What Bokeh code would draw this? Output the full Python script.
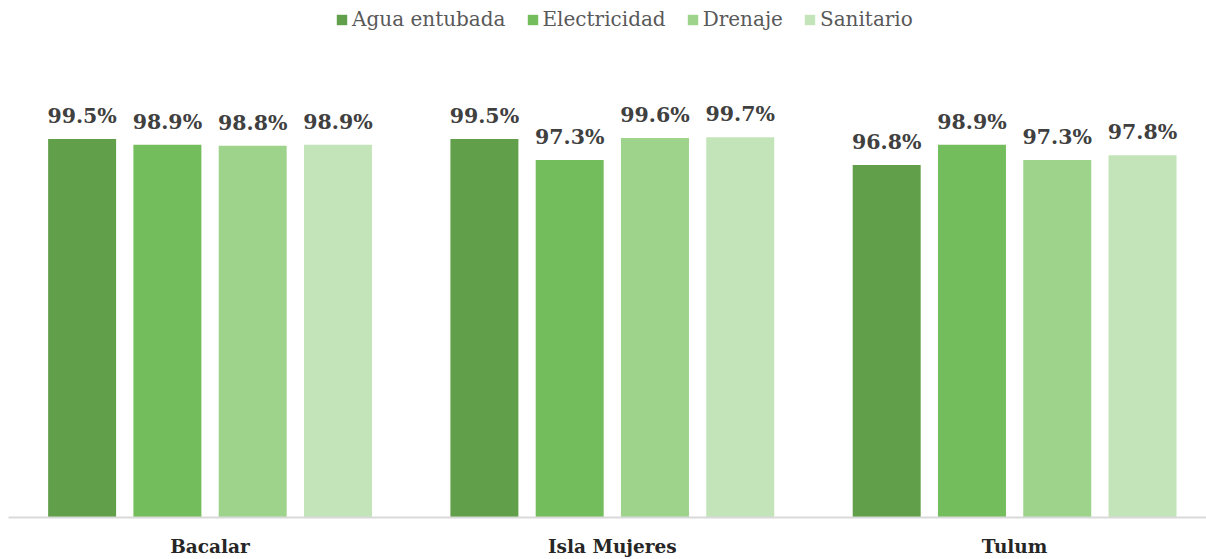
from bokeh.plotting import figure
from bokeh.models import ColumnDataSource, Range1d, FixedTicker, Legend, LegendItem
from bokeh.core.properties import value
from bokeh.transform import dodge
from bokeh.embed import file_html
from bokeh.resources import INLINE

municipios = ["Bacalar", "Isla Mujeres", "Tulum"]
series = ["Agua entubada", "Electricidad", "Drenaje", "Sanitario"]
agua = [99.5, 99.5, 96.8]
electricidad = [98.9, 97.3, 98.9]
drenaje = [98.8, 99.6, 97.3]
sanitario = [98.9, 99.7, 97.8]
colors = ["#629F4B", "#74BD5C", "#9DD38A", "#C3E4B8"]

FONT = "DejaVu Serif"
xpos = list(range(len(municipios)))
data = dict(x=xpos, agua=agua, electricidad=electricidad, drenaje=drenaje, sanitario=sanitario)
for k in ["agua", "electricidad", "drenaje", "sanitario"]:
    data[k + "_lbl"] = [f"{v:.1f}%" for v in data[k]]
src = ColumnDataSource(data)

p = figure(width=1206, height=559, output_backend="svg", toolbar_location=None,
           x_range=Range1d(-0.501, 2.477), y_range=Range1d(60, 113.96),
           min_border_left=8, min_border_right=0, min_border_top=0, min_border_bottom=0)
p.outline_line_color = None
p.grid.visible = False
p.yaxis.visible = False

offsets = [-0.318, -0.106, 0.106, 0.318]
keys = ["agua", "electricidad", "drenaje", "sanitario"]
items = []
for k, off, c, name in zip(keys, offsets, colors, series):
    r = p.vbar(x=dodge("x", off), top=k, bottom=60, width=0.169, source=src,
               fill_color=c, line_color=None)
    p.text(x=dodge("x", off), y=k, text=k + "_lbl", source=src,
           text_align="center", text_baseline="bottom", y_offset=-11,
           text_font=value(FONT), text_font_style="bold", text_font_size="20.5px",
           text_color="#404040")
    items.append(LegendItem(label=name, renderers=[r]))

legend = Legend(items=items, orientation="horizontal", location=(327, 486),
                border_line_color=None, background_fill_alpha=0,
                label_text_font=FONT, label_text_font_size="20px",
                label_text_color="#595959", glyph_width=13, glyph_height=13,
                spacing=20, label_standoff=4, padding=0, margin=0)
p.add_layout(legend, "center")

p.xaxis.ticker = FixedTicker(ticks=xpos)
p.xaxis.major_label_overrides = {i: m for i, m in zip(xpos, municipios)}
p.xaxis.major_tick_line_color = None
p.xaxis.minor_tick_line_color = None
p.xaxis.axis_line_color = "#D9D9D9"
p.xaxis.axis_line_width = 2
p.xaxis.major_label_text_font = FONT
p.xaxis.major_label_text_font_style = "bold"
p.xaxis.major_label_text_font_size = "18.5px"
p.xaxis.major_label_text_color = "#262626"
p.xaxis.major_label_standoff = 12

open("out.html", "w").write(file_html(p, INLINE))
